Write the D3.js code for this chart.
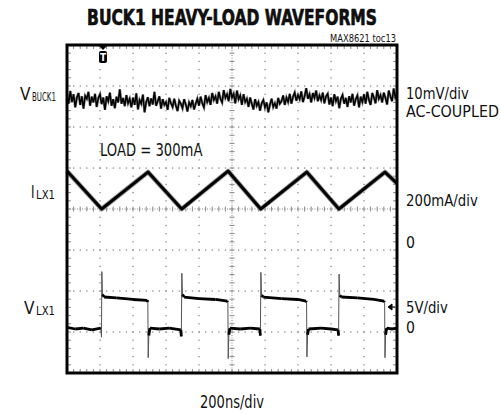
<!DOCTYPE html>
<html>
<head>
<meta charset="utf-8">
<script src="https://cdn.jsdelivr.net/npm/d3@7"></script>
<style>
  body { margin: 0; background: #fff; }
  text { font-family: "Liberation Sans Narrow", "Arial Narrow", "DejaVu Sans Condensed", sans-serif; fill: #111; }
</style>
</head>
<body>
<div id="scope"></div>
<script>
// scope settings
const timeDivs = 10;      // 200ns/div
const nsPerDiv = 200;
const vertDivs = 8;
const minorPerDiv = 5;

// VBUCK1 ripple in mV (AC-coupled), read every 10ns from 0 to 2000ns
const buckStep = 10;
const buckRipple = [
  1.2, -0.9, 2.2, -0.5, 1.4, -1.8, 0.6, 1.7, -1.2, 0.9,
  -2.1, 1.0, 0.3, 2.0, -1.4, 0.8, -0.6, 1.5, -1.7, 0.5,
  1.4, -1.0, 0.6, -2.4, 0.9, -0.3, 1.8, -1.4, 0.2, -2.0,
  0.8, -0.6, 2.6, -0.9, 0.5, -1.5, 1.2, -0.8, 0.3, -1.8,
  0.6, -1.2, 1.6, -2.3, 0.0, -0.9, 1.3, -3.0, -0.5, 0.7,
  -1.5, 0.4, -1.1, 2.0, -1.4, -0.3, 0.9, -2.1, 0.2, -1.2,
  -0.5, -2.4, 0.5, -0.8, -1.7, 0.3, -1.4, -2.7, -0.2, -0.9,
  -2.0, 0.2, -1.1, -2.8, -0.6, -1.5, 0.0, -2.3, -0.9, 0.3,
  -1.4, 0.8, -0.8, -1.8, 1.2, -0.5, 0.5, -1.2, 1.7, 0.0,
  0.9, -0.9, 2.0, 0.3, -0.6, 2.4, 0.5, 1.4, -0.3, 2.7,
  0.6, 1.5, -0.8, 2.3, 0.2, 1.1, -1.2, 1.4, -0.5, 0.3,
  -1.7, 0.6, -0.9, -2.3, 0.2, -1.4, -0.5, -2.6, -0.8, 0.0,
  -1.8, -0.6, -3.0, -1.1, 0.3, -1.7, -0.8, -2.1, 0.5, -0.9,
  -0.3, 1.1, -1.2, 0.6, -0.5, 1.5, -0.9, 0.8, 1.8, -0.2,
  1.2, 0.2, 2.1, -0.5, 0.9, 2.9, 0.3, 1.4, -0.6, 1.7,
  0.5, 2.3, -0.3, 1.1, 0.0, 1.8, -0.8, 0.9, 1.5, -1.1,
  0.6, -1.5, 1.4, -0.3, 0.8, -2.0, 0.3, 1.2, -0.9, 0.5,
  -1.7, 0.9, -0.6, 1.5, -1.4, 0.2, 1.1, -1.8, 0.8, -0.5,
  1.4, -0.9, 2.0, 0.0, -1.2, 1.7, 0.6, -0.8, 2.4, 0.3,
  1.2, -0.6, 1.8, 0.5, -1.1, 2.3, 0.9, -0.3, 2.8, 0.6,
  1.4
];

// ILX1 inductor current corners [ns, mA]
const ilxCorners = [
  [0, 385], [210, 200], [491, 380], [695, 200], [976, 385],
  [1174, 200], [1453, 380], [1648, 200], [1927, 380], [2000, 325]
];

// VLX1 switching node [ns, V]
const vlxTrace = [
  [0, 0.2], [50, 0], [100, 0.1], [150, -0.1], [205, 0.1],
  [209, -1.0], [211, 7.0], [215, 4.2], [225, 3.9], [300, 3.8], [400, 3.6], [486, 3.5],
  [490, 3.3], [492, -3.5], [496, -0.8], [502, 0.1], [560, 0], [620, 0.1], [690, -0.1],
  [693, -0.9], [696, 6.8], [700, 4.2], [710, 3.9], [800, 3.7], [900, 3.6], [972, 3.4],
  [975, 3.3], [977, -3.6], [981, -0.7], [987, 0.1], [1050, 0], [1110, 0.1], [1169, 0],
  [1172, -0.8], [1175, 6.9], [1179, 4.1], [1190, 3.9], [1300, 3.7], [1400, 3.6], [1449, 3.4],
  [1452, 3.3], [1454, -3.4], [1458, -0.7], [1464, 0], [1540, 0.1], [1600, 0], [1643, -0.1],
  [1646, -0.8], [1649, 6.7], [1653, 4.1], [1663, 3.9], [1760, 3.8], [1860, 3.6], [1922, 3.4],
  [1925, 3.3], [1927, -3.5], [1931, -0.7], [1937, 0.1], [1970, 0], [2000, 0.1]
];

const triggerTime = 218;   // ns
const title = 'BUCK1 HEAVY-LOAD WAVEFORMS';
const partNote = 'MAX8621 toc13';
const loadNote = 'LOAD = 300mA';
const timeLabel = '200ns/div';
const traceMains = ['V', 'I', 'V'];
const traceSubs = ['BUCK1', 'LX1', 'LX1'];
const scaleNotes = ['10mV/div', 'AC-COUPLED', '200mA/div', '0', '5V/div', '0'];

// layout (pixels)
const W = 501, H = 414;
const frame = { left: 67, right: 397, top: 45, bottom: 373 };
const mainLayout = [{ x: 20, y: 100, w: 11 }, { x: 31, y: 198, w: 3.5 }, { x: 24, y: 314, w: 11 }];
const subLayout = [{ x: 32, y: 101, w: 24 }, { x: 36, y: 199, w: 19 }, { x: 36, y: 315, w: 19 }];
const noteLayout = [
  { y: 99, w: 63 }, { y: 117, w: 93 }, { y: 206, w: 72 },
  { y: 248, w: 9 }, { y: 313, w: 42 }, { y: 333, w: 9 }
];

const svg = d3.select('#scope').append('svg')
  .attr('width', W).attr('height', H)
  .attr('viewBox', `0 0 ${W} ${H}`);

// squeeze a text to a given width, anchored at (x, y)
function fitText(sel, x, y, w) {
  sel.each(function (d, i) {
    const el = d3.select(this);
    const tx = typeof x === 'function' ? x(d, i) : x;
    const ty = typeof y === 'function' ? y(d, i) : y;
    const tw = typeof w === 'function' ? w(d, i) : w;
    el.attr('x', 0).attr('y', 0);
    const natural = this.getBBox().width;
    el.attr('transform', `translate(${tx},${ty}) scale(${tw / natural},1)`);
  });
}

const xScale = d3.scaleLinear()
  .domain([0, timeDivs * nsPerDiv])
  .range([frame.left, frame.right]);
const xDiv = d3.scaleLinear().domain([0, timeDivs]).range([frame.left, frame.right]);
const yDiv = d3.scaleLinear().domain([0, vertDivs]).range([frame.bottom, frame.top]);
const divPx = yDiv(0) - yDiv(1);

// each trace has its own ground and scale/div
const yBuck = d3.scaleLinear().domain([0, 10]).range([100, 100 - divPx]);
const yIlx = d3.scaleLinear().domain([0, 200]).range([yDiv(3), yDiv(4)]);
const yVlx = d3.scaleLinear().domain([0, 5]).range([329, 329 - divPx]);

// ---- graticule
const grid = svg.append('g').attr('stroke', '#8a8a8a').attr('stroke-width', 1);
const minorX = d3.range(1, timeDivs * minorPerDiv).map(i => xDiv(i / minorPerDiv));
const minorY = d3.range(1, vertDivs * minorPerDiv).map(i => yDiv(i / minorPerDiv));

// dotted division lines: a dot at each minor step
d3.range(1, vertDivs).filter(j => j !== vertDivs / 2).forEach(j => {
  grid.selectAll(null).data(minorX).join('rect')
    .attr('x', d => d - 0.6).attr('y', yDiv(j) - 0.6)
    .attr('width', 1.3).attr('height', 1.3)
    .attr('fill', '#8a8a8a').attr('stroke', 'none');
});
d3.range(1, timeDivs).filter(i => i !== timeDivs / 2).forEach(i => {
  grid.selectAll(null).data(minorY).join('rect')
    .attr('x', xDiv(i) - 0.6).attr('y', d => d - 0.6)
    .attr('width', 1.3).attr('height', 1.3)
    .attr('fill', '#8a8a8a').attr('stroke', 'none');
});

// center cross with minor ticks
const cx = xDiv(timeDivs / 2), cy = yDiv(vertDivs / 2);
grid.append('line').attr('x1', cx).attr('x2', cx).attr('y1', frame.top).attr('y2', frame.bottom)
  .attr('stroke-dasharray', '1,1.5');
grid.append('line').attr('y1', cy).attr('y2', cy).attr('x1', frame.left).attr('x2', frame.right)
  .attr('stroke-dasharray', '1,1.5');
grid.selectAll(null).data(minorY).join('line')
  .attr('x1', cx - 2.5).attr('x2', cx + 2.5).attr('y1', d => d).attr('y2', d => d);
grid.selectAll(null).data(minorX).join('line')
  .attr('y1', cy - 2.5).attr('y2', cy + 2.5).attr('x1', d => d).attr('x2', d => d);

// ticks along the frame edges
grid.selectAll(null).data(minorX).join('line')
  .attr('x1', d => d).attr('x2', d => d).attr('y1', frame.top).attr('y2', frame.top + 4);
grid.selectAll(null).data(minorX).join('line')
  .attr('x1', d => d).attr('x2', d => d).attr('y1', frame.bottom).attr('y2', frame.bottom - 4);
grid.selectAll(null).data(minorY).join('line')
  .attr('y1', d => d).attr('y2', d => d).attr('x1', frame.left).attr('x2', frame.left + 4);
grid.selectAll(null).data(minorY).join('line')
  .attr('y1', d => d).attr('y2', d => d).attr('x1', frame.right).attr('x2', frame.right - 4);

// ---- traces
const traces = svg.append('g');

// VBUCK1 ripple
const buckLine = d3.line()
  .x((d, i) => xScale(i * buckStep))
  .y(d => yBuck(d));
traces.append('path').datum(buckRipple)
  .attr('d', buckLine)
  .attr('fill', 'none').attr('stroke', '#888').attr('stroke-width', 2.6);
traces.append('path').datum(buckRipple)
  .attr('d', buckLine)
  .attr('fill', 'none').attr('stroke', '#000').attr('stroke-width', 1.5);

// ILX1 triangle
const ilxLine = d3.line().x(d => xScale(d[0])).y(d => yIlx(d[1]));
traces.append('path').datum(ilxCorners)
  .attr('d', ilxLine)
  .attr('fill', 'none').attr('stroke', '#9a9a9a').attr('stroke-width', 4.8)
  .attr('stroke-linejoin', 'round');
traces.append('path').datum(ilxCorners)
  .attr('d', ilxLine)
  .attr('fill', 'none').attr('stroke', '#000').attr('stroke-width', 3)
  .attr('stroke-linejoin', 'round');

// VLX1: thin edges, thick plateaus
const vlxLine = d3.line().x(d => xScale(d[0])).y(d => yVlx(d[1]));
traces.append('path').datum(vlxTrace)
  .attr('d', vlxLine)
  .attr('fill', 'none').attr('stroke', '#555').attr('stroke-width', 1);
const plateaus = d3.pairs(vlxTrace).filter(([a, b]) =>
  Math.abs(a[1]) < 4.5 && Math.abs(b[1]) < 4.5 && Math.abs(a[1] - b[1]) < 1);
traces.selectAll(null).data(plateaus).join('line')
  .attr('x1', d => xScale(d[0][0])).attr('y1', d => yVlx(d[0][1]))
  .attr('x2', d => xScale(d[1][0])).attr('y2', d => yVlx(d[1][1]))
  .attr('stroke', '#000').attr('stroke-width', 2.8);

// ---- frame
svg.append('rect')
  .attr('x', frame.left).attr('y', frame.top)
  .attr('width', frame.right - frame.left).attr('height', frame.bottom - frame.top)
  .attr('fill', 'none').attr('stroke', '#000').attr('stroke-width', 3);

// trigger marker
const tx = xScale(triggerTime);
svg.append('path')
  .attr('d', `M${tx - 4},${frame.top + 1} L${tx + 4},${frame.top + 1} L${tx},${frame.top + 5} Z`)
  .attr('fill', '#000');
svg.append('rect')
  .attr('x', tx - 4).attr('y', frame.top + 6).attr('width', 8).attr('height', 12).attr('rx', 2)
  .attr('fill', '#000');
svg.append('text')
  .attr('x', tx).attr('y', frame.top + 16)
  .attr('text-anchor', 'middle').attr('font-size', 10).attr('font-weight', 'bold')
  .style('fill', '#fff').text('T');

// ground arrow for VLX1
svg.append('path')
  .attr('d', `M${frame.right - 9},307 L${frame.right - 5},304 L${frame.right - 5},310 Z M${frame.right - 5},307 L${frame.right - 2},307`)
  .attr('fill', '#000').attr('stroke', '#000').attr('stroke-width', 1);

// ---- texts
svg.append('text')
  .attr('text-anchor', 'middle')
  .attr('font-size', 21).attr('font-weight', 'bold')
  .style('stroke', '#000').style('stroke-width', 0.6)
  .text(title)
  .call(fitText, xDiv(timeDivs / 2), 25, 290);

svg.append('text')
  .attr('text-anchor', 'end').attr('font-size', 10)
  .text(partNote)
  .call(fitText, frame.right - 1, 42, 66);

svg.append('text')
  .attr('font-size', 17)
  .text(loadNote)
  .call(fitText, 100, 156, 103);

svg.append('text')
  .attr('text-anchor', 'middle').attr('font-size', 17)
  .text(timeLabel)
  .call(fitText, xDiv(timeDivs / 2), 408, 64);

// trace names: main letter plus subscript
svg.selectAll('.trace-main').data(traceMains).join('text')
  .attr('class', 'trace-main')
  .attr('font-size', 17)
  .text(d => d)
  .call(fitText, (d, i) => mainLayout[i].x, (d, i) => mainLayout[i].y, (d, i) => mainLayout[i].w);
svg.selectAll('.trace-sub').data(traceSubs).join('text')
  .attr('class', 'trace-sub')
  .attr('font-size', 12.5)
  .text(d => d)
  .call(fitText, (d, i) => subLayout[i].x, (d, i) => subLayout[i].y, (d, i) => subLayout[i].w);

svg.selectAll('.scale-note').data(scaleNotes).join('text')
  .attr('class', 'scale-note')
  .attr('font-size', 16.5)
  .text(d => d)
  .call(fitText, 406, (d, i) => noteLayout[i].y, (d, i) => noteLayout[i].w);
</script>
</body>
</html>
